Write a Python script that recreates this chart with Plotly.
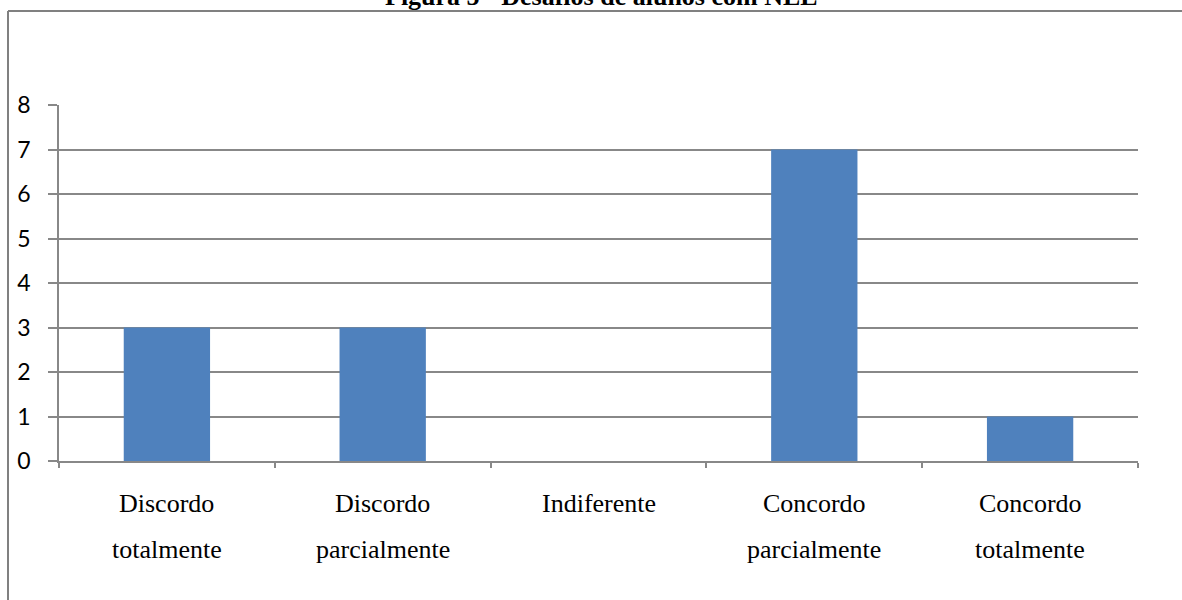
import plotly.graph_objects as go

# Data
categories = ["Discordo totalmente", "Discordo parcialmente", "Indiferente",
              "Concordo parcialmente", "Concordo totalmente"]
label_line1 = ["Discordo", "Discordo", "Indiferente", "Concordo", "Concordo"]
label_line2 = ["totalmente", "parcialmente", "", "parcialmente", "totalmente"]
values = [3, 3, 0, 7, 1]
y_ticks = [0, 1, 2, 3, 4, 5, 6, 7, 8]
title_text = "Figura 5 - Desafios de alunos com NEE"

W, H = 1182, 600
ML, MR, MT, MB = 59, 44, 105, 139
PW = W - ML - MR
PH = H - MT - MB

def px_to_paper_x(px):
    return (px - ML) / PW

def px_to_paper_y(py):
    return (H - MB - py) / PH

GRID = "#888888"
BAR = "#4F81BD"

fig = go.Figure()
fig.add_trace(go.Bar(
    x=categories, y=values,
    marker=dict(color=BAR, line=dict(width=0)),
    hoverinfo="x+y",
))

annotations = []
for cat, l1, l2 in zip(categories, label_line1, label_line2):
    annotations.append(dict(
        x=cat, xref="x", y=0, yref="paper", text=l1, showarrow=False,
        yanchor="middle", xanchor="center", yshift=-42,
        font=dict(family="Liberation Serif, Times New Roman, serif", size=26, color="#000000"),
    ))
    if l2:
        annotations.append(dict(
            x=cat, xref="x", y=0, yref="paper", text=l2, showarrow=False,
            yanchor="middle", xanchor="center", yshift=-88,
            font=dict(family="Liberation Serif, Times New Roman, serif", size=26, color="#000000"),
        ))

annotations.append(dict(
    x=px_to_paper_x(601), xref="paper", y=1, yref="paper", text="<b>" + title_text + "</b>",
    showarrow=False, xanchor="center", yanchor="middle", yshift=109,
    font=dict(family="Liberation Serif, Times New Roman, serif", size=26, color="#000000"),
))

shapes = [
    # outer frame (top and left)
    dict(type="line", xref="paper", yref="paper",
         x0=px_to_paper_x(8), x1=px_to_paper_x(1200),
         y0=px_to_paper_y(11), y1=px_to_paper_y(11),
         line=dict(color="#808080", width=2)),
    dict(type="line", xref="paper", yref="paper",
         x0=px_to_paper_x(8), x1=px_to_paper_x(8),
         y0=px_to_paper_y(11), y1=px_to_paper_y(620),
         line=dict(color="#808080", width=2)),
]

fig.update_layout(
    width=W, height=H,
    margin=dict(l=ML, r=MR, t=MT, b=MB, pad=0),
    paper_bgcolor="white", plot_bgcolor="white",
    showlegend=False,
    bargap=0.6,
    annotations=annotations,
    shapes=shapes,
    xaxis=dict(
        type="category", range=[-0.5, 4.5],
        showline=True, linecolor=GRID, linewidth=1.5,
        ticks="outside", tickson="boundaries", ticklen=5, tickcolor=GRID, tickwidth=1.5,
        showticklabels=False, showgrid=False, zeroline=False,
    ),
    yaxis=dict(
        range=[0, 8], tickvals=y_ticks, ticktext=[str(v) for v in y_ticks],
        showline=True, linecolor=GRID, linewidth=1.5,
        ticks="outside", ticklen=9, tickcolor=GRID, tickwidth=1.5,
        showgrid=True, gridcolor=GRID, gridwidth=1.5, zeroline=False,
        tickfont=dict(family="Lato, Open Sans, sans-serif", size=23, color="#000000"),
        ticklabelstandoff=13,
    ),
)

fig.write_html("out.html")
